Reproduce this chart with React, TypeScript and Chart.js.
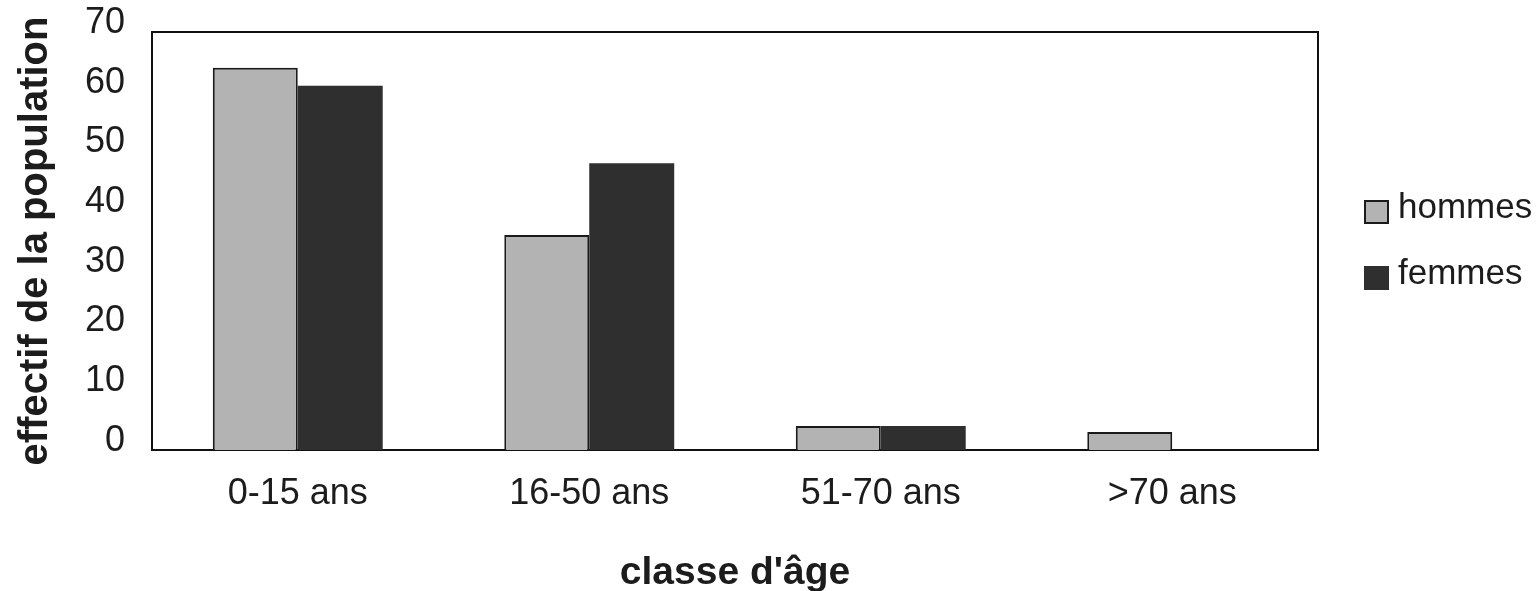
import React, { useEffect, useRef } from "react";
import { Chart, registerables } from "chart.js";

Chart.register(...registerables);

const categories = ["0-15 ans", "16-50 ans", "51-70 ans", ">70 ans"];
const seriesNames = ["hommes", "femmes"];
const hommes = [64, 36, 4, 3];
const femmes = [61, 48, 4, 0];
const yTicks = [0, 10, 20, 30, 40, 50, 60, 70];
const xTitle = "classe d'âge";
const yTitle = "effectif de la population";

const FONT = "'Liberation Sans', Arial, sans-serif";
const TEXT = "#1c1c1c";

const framePlugin = {
  id: "frame",
  beforeDatasetsDraw(chart: any) {
    const { ctx, chartArea } = chart;
    const { left, top, right, bottom } = chartArea;
    ctx.save();
    ctx.strokeStyle = "#111";
    ctx.lineWidth = 2;
    ctx.strokeRect(left, top, right - left, bottom - top);
    ctx.restore();
  },
};

const legendPlugin = {
  id: "sideLegend",
  afterDraw(chart: any) {
    const { ctx } = chart;
    const x = 1364;
    const y0 = 200;
    const step = 66;
    ctx.save();
    chart.data.datasets.forEach((ds: any, i: number) => {
      const y = y0 + i * step;
      ctx.fillStyle = ds.backgroundColor;
      ctx.fillRect(x, y, 25, 24);
      if (ds.borderWidth) {
        ctx.strokeStyle = ds.borderColor;
        ctx.lineWidth = 2;
        ctx.strokeRect(x + 1, y + 1, 23, 22);
      }
      ctx.fillStyle = TEXT;
      ctx.font = `35px ${FONT}`;
      ctx.textBaseline = "alphabetic";
      ctx.textAlign = "left";
      ctx.fillText(ds.label, x + 34, y + 18);
    });
    ctx.restore();
  },
};

export default function App() {
  const ref = useRef<HTMLCanvasElement | null>(null);

  useEffect(() => {
    if (!ref.current) return;
    const chart = new Chart(ref.current, {
      type: "bar",
      data: {
        labels: categories,
        datasets: [
          {
            label: seriesNames[0],
            data: hommes,
            backgroundColor: "#b3b3b3",
            borderColor: "#1a1a1a",
            borderWidth: 2,
            categoryPercentage: 0.583,
            barPercentage: 1.0,
          },
          {
            label: seriesNames[1],
            data: femmes,
            backgroundColor: "#2f2f2f",
            borderColor: "#2f2f2f",
            borderWidth: 0,
            categoryPercentage: 0.583,
            barPercentage: 1.0,
          },
        ],
      },
      options: {
        animation: false,
        responsive: true,
        maintainAspectRatio: false,
        layout: { padding: { top: 32, right: 220, bottom: 0, left: 0 } },
        plugins: {
          legend: { display: false },
          tooltip: { enabled: false },
        },
        scales: {
          x: {
            grid: { display: false, drawTicks: false },
            border: { display: false },
            ticks: {
              color: TEXT,
              font: { family: FONT, size: 36 },
              padding: 22,
              maxRotation: 0,
            },
            title: {
              display: true,
              text: xTitle,
              color: TEXT,
              font: { family: FONT, size: 39, weight: "bold" },
              padding: { top: 0, bottom: -6 },
            },
            afterFit: (s: any) => {
              s.height = 141;
              s.paddingLeft = 0;
              s.paddingRight = 0;
            },
          },
          y: {
            min: 0,
            max: 70,
            grid: { display: false, drawTicks: false },
            border: { display: false },
            afterBuildTicks: (s: any) => {
              s.ticks = yTicks.map((v) => ({ value: v }));
            },
            ticks: {
              color: TEXT,
              font: { family: FONT, size: 36 },
              padding: 27,
              labelOffset: -9,
            },
            title: {
              display: true,
              text: yTitle,
              color: TEXT,
              font: { family: FONT, size: 40, weight: "bold" },
              padding: { top: 12, bottom: 0 },
            },
            afterFit: (s: any) => {
              s.width = 152;
              s.paddingTop = 0;
              s.paddingBottom = 0;
            },
          },
        },
      },
      plugins: [framePlugin, legendPlugin],
    });
    return () => chart.destroy();
  }, []);

  return (
    <div
      style={{
        position: "fixed",
        left: 0,
        top: 0,
        width: 1538,
        height: 591,
        background: "#fff",
      }}
    >
      <canvas ref={ref} />
    </div>
  );
}
